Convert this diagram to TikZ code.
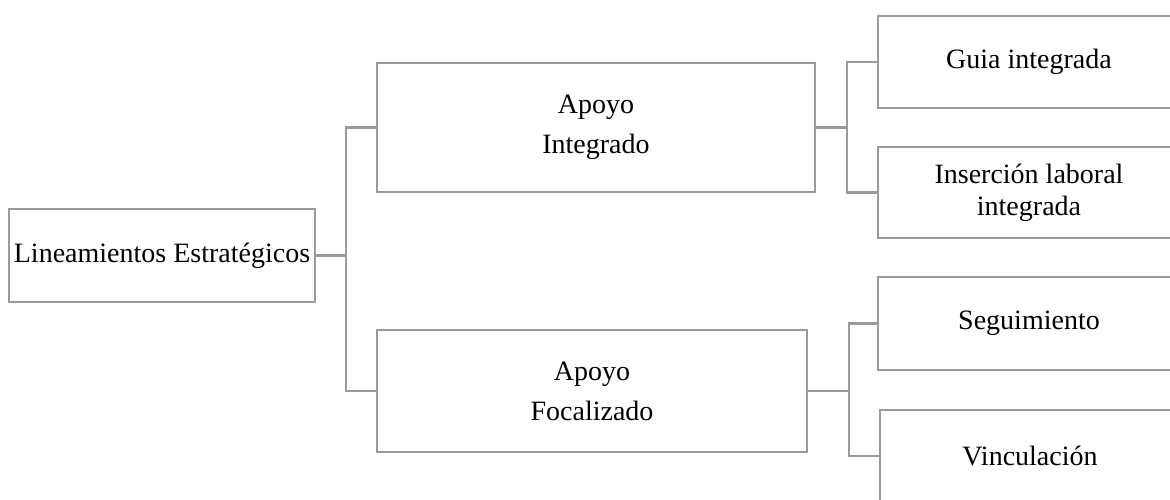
\documentclass[tikz,border=0pt]{standalone}
\usepackage{fontspec}
\setmainfont{Liberation Serif}
\definecolor{boxgray}{RGB}{155,155,155}
\tikzset{
  box/.style={draw=boxgray, line width=2.8pt, rectangle, inner sep=0pt, align=center, text=black,
    font=\fontsize{28}{40}\selectfont},
  link/.style={draw=boxgray, line width=2.8pt},
}
\begin{document}
\begin{tikzpicture}[x=1pt,y=-1pt]
\useasboundingbox (0,0) rectangle (1170,500);
\clip (0,0) rectangle (1170,500);
% root
\node[box, minimum width=306pt, minimum height=93pt] (root) at (162,255.5) {Lineamientos Estratégicos};
% middle
\node[box, minimum width=438pt, minimum height=129pt] (m1) at (596,127.5) {Apoyo\\Integrado};
\node[box, minimum width=430pt, minimum height=122pt] (m2) at (592,391) {Apoyo\\Focalizado};
% right
\node[box, minimum width=302pt, minimum height=92pt] (g1) at (1029,62) {Guia integrada};
\node[box, minimum width=302pt, minimum height=91pt, font=\fontsize{28}{32}\selectfont] (g2) at (1029,192.5) {Inserción laboral\\integrada};
\node[box, minimum width=302pt, minimum height=93pt] (s1) at (1029,323.5) {Seguimiento};
\node[box, minimum width=300pt, minimum height=92pt] (s2) at (1030,456) {Vinculación};
% connectors
\coordinate (j0) at (346,255.5);
\coordinate (j1) at (847,127.5);
\coordinate (j2) at (849,391);
\draw[link] (root.east) -- (j0);
\draw[link] (j0) |- (m1.west);
\draw[link] (j0) |- (m2.west);
\draw[link] (m1.east) -- (j1);
\draw[link] (j1) |- (g1.west);
\draw[link] (j1) |- (g2.west);
\draw[link] (m2.east) -- (j2);
\draw[link] (j2) |- (s1.west);
\draw[link] (j2) |- (s2.west);
\end{tikzpicture}
\end{document}
